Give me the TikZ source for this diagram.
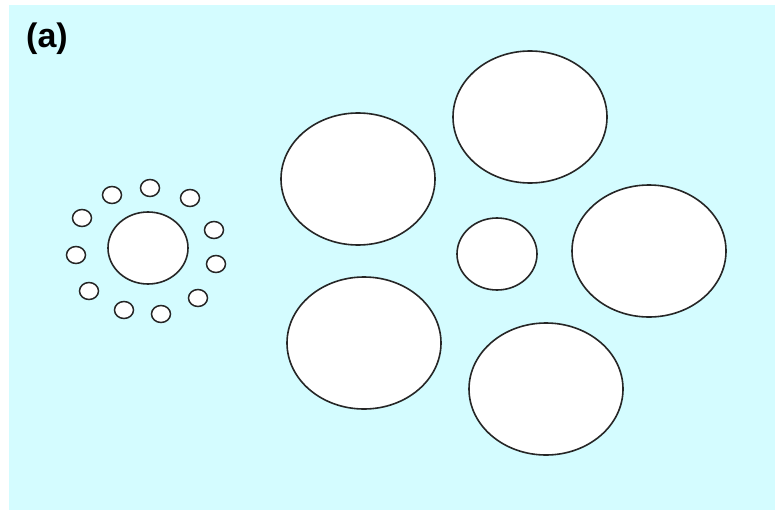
\documentclass[tikz,border=0pt]{standalone}
\usepackage{fontspec}
\setmainfont{Liberation Sans}
\usetikzlibrary{shapes.geometric}
\definecolor{skyback}{RGB}{212,252,255}

\begin{document}
\begin{tikzpicture}[x=1pt,y=-1pt,
  disc/.style={ellipse,draw=black!85,line width=1.6pt,fill=white,inner sep=0pt},
  bigdisc/.style={disc,minimum width=154pt,minimum height=132pt},
  middisc/.style={disc,minimum width=80pt,minimum height=72pt},
  tinydisc/.style={disc,line width=1.5pt,minimum width=19pt,minimum height=17pt}]
\useasboundingbox (0,0) rectangle (775,519);
\fill[skyback] (9,5) rectangle (775,510);
\node[font=\bfseries\fontsize{34}{34}\selectfont,anchor=west,inner sep=0pt] (label) at (26,39) {(a)};
% left group
\node[middisc] (leftcore) at (148,248) {};
\foreach \x/\y [count=\i] in {150/188,190/198,112/195,82/218,214/230,76/255,216/264,89/291,198/298,124/310,161/314}
  \node[tinydisc] (ring\i) at (\x,\y) {};
% right group
\node[middisc] (rightcore) at (497,254) {};
\node[bigdisc] (top) at (530,117) {};
\node[bigdisc] (upleft) at (358,179) {};
\node[bigdisc] (right) at (649,251) {};
\node[bigdisc] (lowleft) at (364,343) {};
\node[bigdisc] (bottom) at (546,389) {};
\end{tikzpicture}
\end{document}
